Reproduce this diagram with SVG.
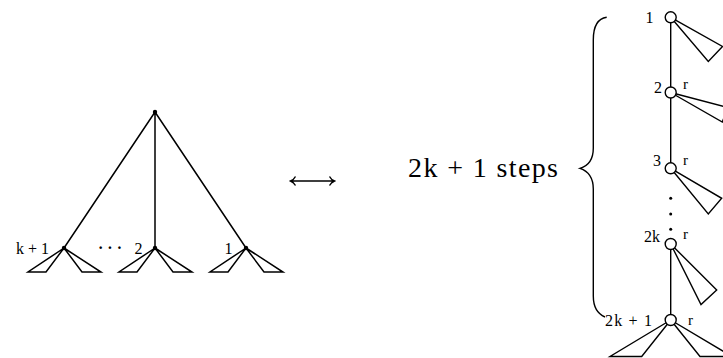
<svg xmlns="http://www.w3.org/2000/svg" width="723" height="358" viewBox="0 0 723 358">
<style>
.e{stroke:#000;stroke-width:1.5;fill:none;stroke-linejoin:miter}
.r{stroke:#000;stroke-width:1.4;fill:none;stroke-linejoin:miter}
.c{fill:#fff;stroke:#000;stroke-width:1.4}
.d{fill:#000}
.t{font-family:"Liberation Serif","DejaVu Serif",serif;font-size:16px;fill:#000}
.s{font-family:"Liberation Serif","DejaVu Serif",serif;font-size:15px;fill:#000}
.b{font-family:"Liberation Serif","DejaVu Serif",serif;font-size:28px;fill:#000}
</style>
<rect width="723" height="358" fill="#fff"/>
<g id="connectors">
  <path class="e" d="M155,112 L64,248 M155,112 L155,248 M155,112 L246,248"/>
  <path class="r" d="M670.7,17.3 L670.7,168.3 M670.7,244 L670.7,320"/>
  <path class="r" d="M291,181 L334,181 M295.5,176.5 Q294,179.5 290.5,181 Q294,182.5 295.5,185.5 M329.5,176.5 Q331,179.5 334.5,181 Q331,182.5 329.5,185.5"/>
  <path class="r" d="M606.7,17.3 C598,18.5 593.3,25 593.3,40 L593.3,148 C593.3,160 588,166 580,168.3 C588,171 593.3,177 593.3,189 L593.3,296 C593.3,307 598,314 605,317"/>
</g>
<g id="left-root"><circle class="d" cx="155" cy="112" r="2.2"/></g>
<g id="left-child-k1">
  <polygon class="e" points="64,248 28,272 46,272"/>
  <polygon class="e" points="64,248 82,272 101,272"/>
  <circle class="d" cx="64" cy="248" r="2.2"/>
  <text class="t" x="49" y="253.5" text-anchor="end">k + 1</text>
</g>
<g id="left-dots"><text class="t" x="110" y="253" text-anchor="middle" font-weight="bold">· · ·</text></g>
<g id="left-child-2">
  <polygon class="e" points="155,248 119,272 137,272"/>
  <polygon class="e" points="155,248 173,272 192,272"/>
  <circle class="d" cx="155" cy="248" r="2.2"/>
  <text class="t" x="142.5" y="253.5" text-anchor="end">2</text>
</g>
<g id="left-child-1">
  <polygon class="e" points="246,248 210,272 228,272"/>
  <polygon class="e" points="246,248 264,272 283,272"/>
  <circle class="d" cx="246" cy="248" r="2.2"/>
  <text class="t" x="232.5" y="253.5" text-anchor="end">1</text>
</g>
<g id="label-steps"><text class="b" x="408" y="177" textLength="150" lengthAdjust="spacing">2k + 1 steps</text></g>
<g id="node-1">
  <polygon class="r" points="670.7,17.3 722.5,46.5 708.3,61.5"/>
  <circle class="c" cx="670.7" cy="17.3" r="5.5"/>
  <text class="t" x="653.5" y="23" text-anchor="end">1</text>
</g>
<g id="node-2">
  <polygon class="r" points="670.7,92.5 728,107.5 722.3,122"/>
  <circle class="c" cx="670.7" cy="92.5" r="5.5"/>
  <text class="t" x="662" y="93" text-anchor="end">2</text>
  <text class="s" x="683" y="89">r</text>
</g>
<g id="node-3">
  <polygon class="r" points="670.7,168.3 721.7,198.3 708.3,214"/>
  <circle class="c" cx="670.7" cy="168.3" r="5.5"/>
  <text class="t" x="661" y="165.5" text-anchor="end">3</text>
  <text class="s" x="683" y="165">r</text>
</g>
<g id="vdots">
  <circle class="d" cx="670.7" cy="198.3" r="1.5"/>
  <circle class="d" cx="670.7" cy="214" r="1.5"/>
  <circle class="d" cx="670.7" cy="229.3" r="1.5"/>
</g>
<g id="node-2k">
  <polygon class="r" points="670.7,244 716.7,290 701,304.5"/>
  <circle class="c" cx="670.7" cy="244" r="5.5"/>
  <text class="t" x="660" y="241.7" text-anchor="end">2k</text>
  <text class="s" x="683" y="239">r</text>
</g>
<g id="node-2k1">
  <polygon class="r" points="670.7,320 610,356.5 641.7,356.5"/>
  <polygon class="r" points="670.7,320 700,356.5 732,356.5"/>
  <circle class="c" cx="670.7" cy="320" r="5.5"/>
  <text class="t" x="605" y="325.5" textLength="47" lengthAdjust="spacing">2k + 1</text>
  <text class="s" x="688" y="325">r</text>
</g>
</svg>
